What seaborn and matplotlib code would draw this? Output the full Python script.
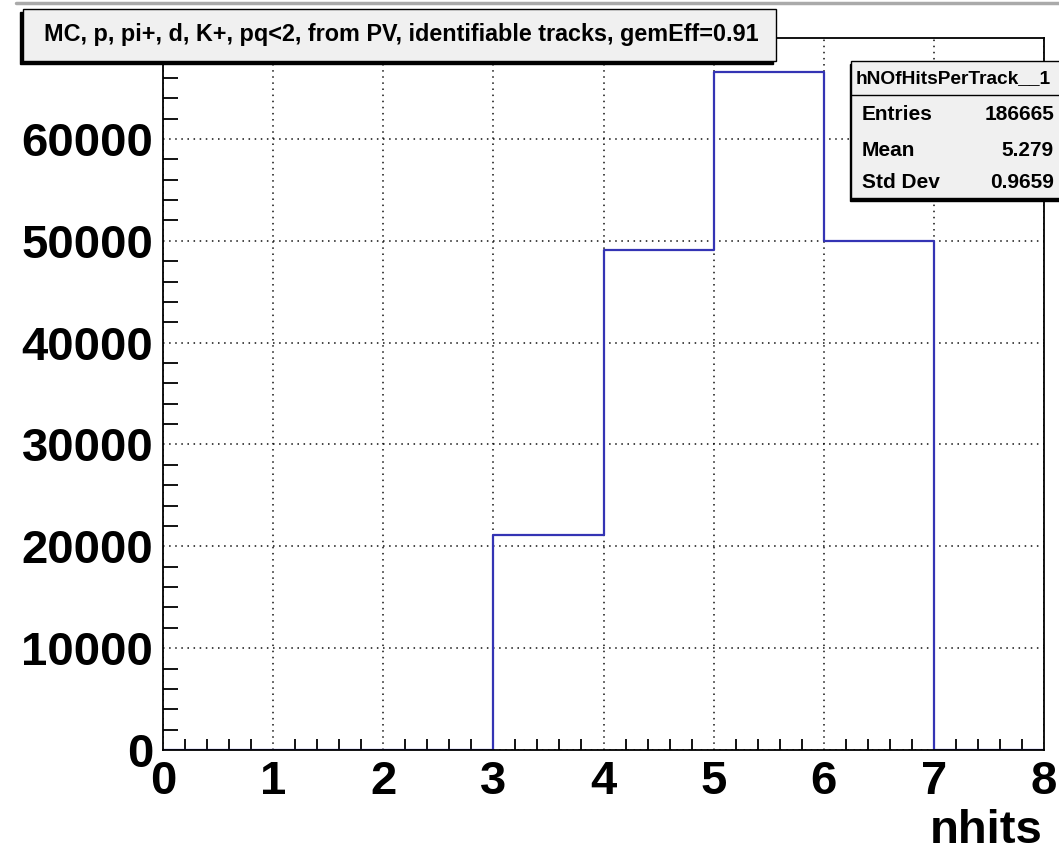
import numpy as np
import pandas as pd
import seaborn as sns
import matplotlib
matplotlib.use("Agg")
import matplotlib.pyplot as plt
from matplotlib.patches import Rectangle
from matplotlib.lines import Line2D
from matplotlib.ticker import MultipleLocator

# Histogram of hits per track, one bin per integer nhits value
bin_edges = [0, 1, 2, 3, 4, 5, 6, 7, 8]
bin_counts = [0, 0, 0, 21066, 49068, 66584, 49947, 0]
hist_name = "hNOfHitsPerTrack__1"
title_text = "MC, p, pi+, d, K+, pq<2, from PV, identifiable tracks, gemEff=0.91"
x_label = "nhits"

sns.set_theme(style="white")
plt.rcParams["font.family"] = ["Liberation Sans", "DejaVu Sans"]
plt.rcParams["font.weight"] = "bold"
plt.rcParams["text.color"] = "black"

W, H = 1059, 851
fig = plt.figure(figsize=(W / 100, H / 100), dpi=100)
fig.patch.set_facecolor("white")

def fx(px):
    return px / W

def fy(py):
    return 1 - py / H

ax = fig.add_axes([fx(163), fy(750), fx(1044) - fx(163), fy(38) - fy(750)])
ax.set_facecolor("white")

centers = [(a + b) / 2 for a, b in zip(bin_edges[:-1], bin_edges[1:])]
df = pd.DataFrame({"nhits": centers, "count": bin_counts})

sns.histplot(data=df, x="nhits", weights="count", bins=bin_edges,
             element="step", fill=False, color="#3434b4", linewidth=1.6,
             ax=ax, zorder=3)

ymax = max(bin_counts) * 1.05
ax.set_xlim(bin_edges[0], bin_edges[-1])
ax.set_ylim(0, ymax)

ax.xaxis.set_major_locator(MultipleLocator(1))
ax.xaxis.set_minor_locator(MultipleLocator(0.2))
ax.yaxis.set_major_locator(MultipleLocator(10000))
ax.yaxis.set_minor_locator(MultipleLocator(2000))

ax.grid(True, which="major", color="#111111", linestyle=(0, (1, 3)), linewidth=1.1)
ax.set_axisbelow(True)

for s in ax.spines.values():
    s.set_color("black")
    s.set_linewidth(1.3)
    s.set_zorder(4)

ax.tick_params(axis="x", which="major", direction="in", length=14.5, width=1.3,
               labelsize=34, pad=7, top=False, color="black", labelcolor="black")
ax.tick_params(axis="x", which="minor", direction="in", length=8, width=1.3,
               top=False, bottom=True, color="black")
ax.tick_params(axis="y", which="major", direction="in", length=21.5, width=1.3,
               labelsize=34, pad=7, right=False, color="black", labelcolor="black")
ax.tick_params(axis="y", which="minor", direction="in", length=11, width=1.3,
               right=False, left=True, color="black")
for lab in ax.get_xticklabels() + ax.get_yticklabels():
    lab.set_fontweight("bold")

ax.set_xlabel("")
ax.set_ylabel("")
ax.text(fx(1043), fy(831), x_label, transform=fig.transFigure, ha="right",
        va="center", fontsize=34, fontweight="bold", color="black")

# Window border line across the top
fig.add_artist(Line2D([fx(16), 1], [fy(3), fy(3)], color="#aaaaaa", linewidth=2.5))

# Boxes with a dark drop shadow
def boxed(x0, y0, x1, y1, shadow=(-3, 3)):
    sx, sy = shadow
    fig.add_artist(Rectangle((fx(x0 + sx), fy(y1 + sy)), fx(x1) - fx(x0),
                             fy(y0) - fy(y1), transform=fig.transFigure,
                             facecolor="black", edgecolor="black", zorder=10))
    fig.add_artist(Rectangle((fx(x0), fy(y1)), fx(x1) - fx(x0),
                             fy(y0) - fy(y1), transform=fig.transFigure,
                             facecolor="#f0f0f0", edgecolor="black",
                             linewidth=1.0, zorder=11))

boxed(23, 9, 776, 61)
fig.text(fx(401), fy(35), title_text, ha="center", va="center", fontsize=16.8,
         fontweight="bold", color="black", zorder=12)

# Statistics box
counts = np.array(bin_counts, dtype=float)
cent = np.array(centers)
entries = int(counts.sum())
mean = (counts * cent).sum() / counts.sum()
std = np.sqrt((counts * (cent - mean) ** 2).sum() / counts.sum())

boxed(851, 61, 1075, 198, shadow=(-1, 3))
fig.add_artist(Line2D([fx(851), 1], [fy(95), fy(95)], color="black",
                      linewidth=1.0, zorder=12))
fig.text(fx(856), fy(79), hist_name, ha="left", va="center", fontsize=13.8,
         fontweight="bold", color="black", zorder=12)
rows = [("Entries", f"{entries}"), ("Mean", f"{mean:.3f}"), ("Std Dev", f"{std:.4f}")]
for (name, val), yy in zip(rows, [115, 150, 182]):
    fig.text(fx(862), fy(yy), name, ha="left", va="center", fontsize=15,
             fontweight="bold", color="black", zorder=12)
    fig.text(fx(1054), fy(yy), val, ha="right", va="center", fontsize=15,
             fontweight="bold", color="black", zorder=12)

fig.savefig("out.png", dpi=100, facecolor="white")
